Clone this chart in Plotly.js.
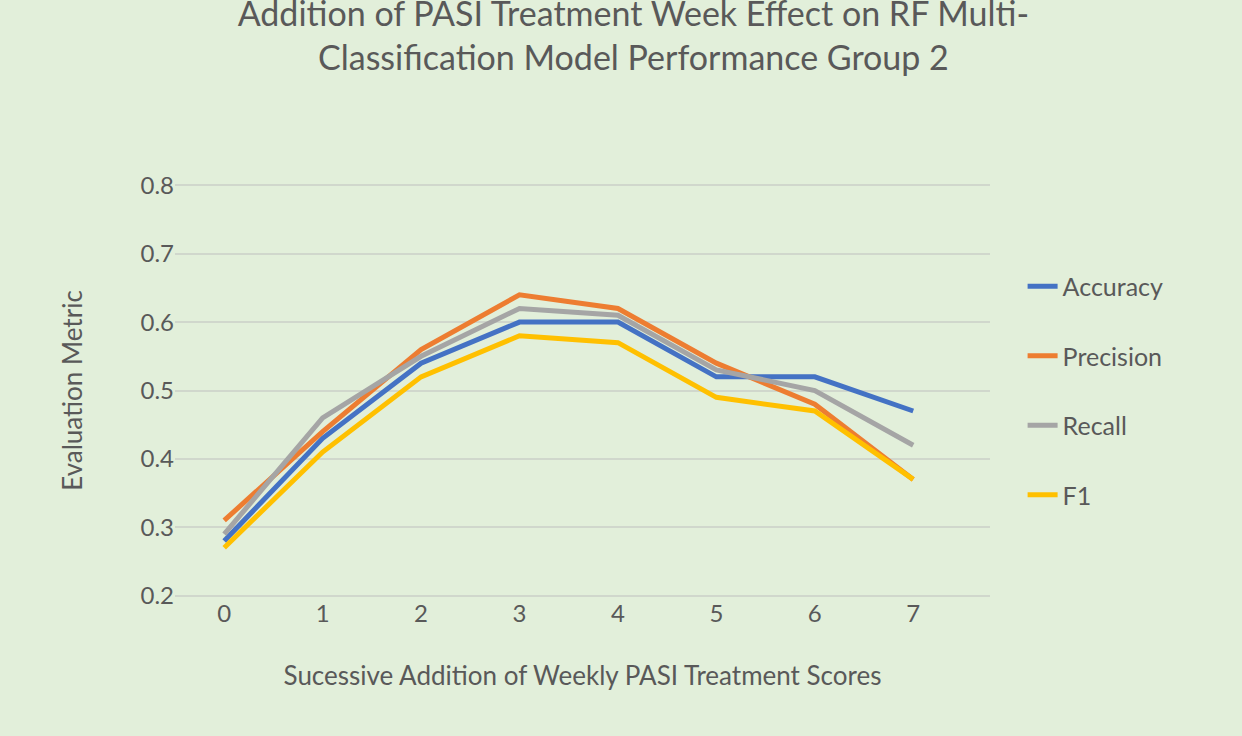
<!DOCTYPE html>
<html>
<head>
<meta charset="utf-8">
<script src="https://cdn.plot.ly/plotly-3.0.1.min.js"></script>
<style>html,body{margin:0;padding:0;background:#E2EFDA;}</style>
</head>
<body>
<div id="chart" style="width:1242px;height:736px;"></div>
<script>
const weeks = [0, 1, 2, 3, 4, 5, 6, 7];
const accuracy = [0.28, 0.43, 0.54, 0.60, 0.60, 0.52, 0.52, 0.47];
const precision = [0.31, 0.44, 0.56, 0.64, 0.62, 0.54, 0.48, 0.37];
const recall = [0.29, 0.46, 0.55, 0.62, 0.61, 0.53, 0.50, 0.42];
const f1 = [0.27, 0.41, 0.52, 0.58, 0.57, 0.49, 0.47, 0.37];

const series = [
    ['Accuracy', accuracy, '#4472C4'],
    ['Precision', precision, '#ED7D31'],
    ['Recall', recall, '#A5A5A5'],
    ['F1', f1, '#FFC000']
];

const data = series.map(([name, y, color]) => ({
    x: weeks, y: y, name: name, legendgroup: name, type: 'scatter', mode: 'lines',
    line: { color: color, width: 5 }
}));

const grey = '#595959';
const layout = {
    paper_bgcolor: '#E2EFDA',
    plot_bgcolor: '#E2EFDA',
    font: { family: 'Lato, sans-serif', color: grey, size: 24 },
    margin: { l: 175, r: 252, t: 184, b: 139 },
    title: {
        text: 'Addition of PASI Treatment Week Effect on RF Multi-<br>Classification Model Performance Group 2',
        font: { size: 34, color: grey, lineposition: 'none' },
        x: 0.51, xanchor: 'center', y: 0.965, yanchor: 'top'
    },
    xaxis: {
        range: [-0.5, 7.78], tickvals: weeks, showgrid: false, zeroline: false,
        showline: false, ticks: '',
        title: { text: 'Sucessive Addition of Weekly PASI Treatment Scores', font: { size: 26, color: grey }, standoff: 40 }
    },
    yaxis: {
        range: [0.198, 0.802], dtick: 0.1, tickformat: '.1f', gridcolor: '#D0D7CC', gridwidth: 1.5,
        zeroline: false, ticks: '', ticklen: 0,
        title: { text: 'Evaluation Metric', font: { size: 26, color: grey }, standoff: 50 }
    },
    showlegend: true,
    legend: {
        x: 1.04, xanchor: 'left', y: 0.5, yanchor: 'middle',
        font: { size: 25, color: grey }, bgcolor: 'rgba(0,0,0,0)',
        traceorder: 'grouped', tracegroupgap: 34
    }
};

Plotly.newPlot('chart', data, layout, { displayModeBar: false });
</script>
</body>
</html>
